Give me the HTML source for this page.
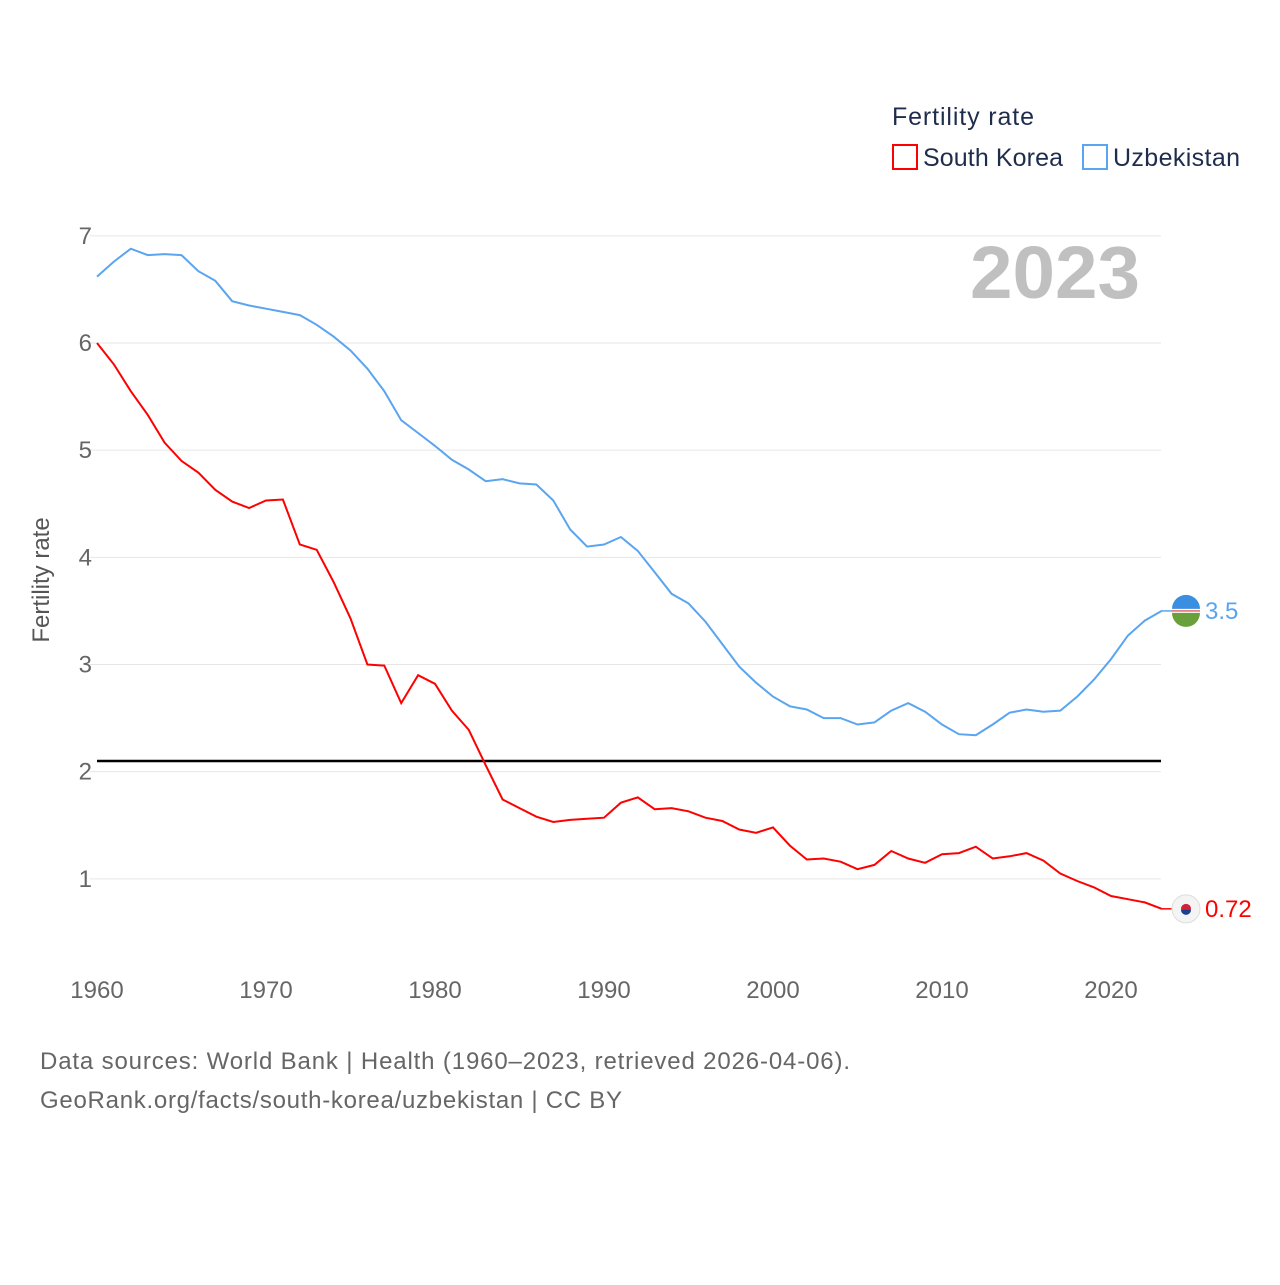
<!DOCTYPE html>
<html><head><meta charset="utf-8"><style>
body{margin:0;background:#fff;font-family:"Liberation Sans",sans-serif}
svg text{font-family:"Liberation Sans",sans-serif}
</style></head><body>
<svg id="chart" width="1280" height="1280" xmlns="http://www.w3.org/2000/svg">
<rect width="1280" height="1280" fill="#fff"/>
<g id="grid"></g>
<text x="970" y="298" textLength="170" lengthAdjust="spacingAndGlyphs" font-size="74" font-weight="bold" fill="#c0c0c0">2023</text>
<text x="49" y="580" transform="rotate(-90 49 580)" text-anchor="middle" font-size="24" fill="#555">Fertility rate</text>
<g>
<text x="892" y="125" textLength="142" font-size="25" fill="#1f2d4d">Fertility rate</text>
<rect x="893" y="145" width="24" height="24" fill="none" stroke="#ff0000" stroke-width="2"/>
<text x="923" y="166" textLength="140" font-size="25" fill="#1f2d4d">South Korea</text>
<rect x="1083" y="145" width="24" height="24" fill="none" stroke="#5aa5f0" stroke-width="2"/>
<text x="1113" y="166" textLength="127" font-size="25" fill="#1f2d4d">Uzbekistan</text>
</g>
<g id="marks"></g>
<text x="40" y="1069" textLength="810" font-size="24" fill="#666">Data sources: World Bank | Health (1960–2023, retrieved 2026-04-06).</text>
<text x="40" y="1108" textLength="582" font-size="24" fill="#666">GeoRank.org/facts/south-korea/uzbekistan | CC BY</text>
</svg>
<script>
const years=[];for(let y=1960;y<=2023;y++)years.push(y);
const korea=[6.0,5.8,5.55,5.33,5.07,4.9,4.79,4.63,4.52,4.46,4.53,4.54,4.12,4.07,3.77,3.43,3.0,2.99,2.64,2.9,2.82,2.57,2.39,2.06,1.74,1.66,1.58,1.53,1.55,1.56,1.57,1.71,1.76,1.65,1.66,1.63,1.57,1.54,1.46,1.43,1.48,1.31,1.18,1.19,1.16,1.09,1.13,1.26,1.19,1.15,1.23,1.24,1.30,1.19,1.21,1.24,1.17,1.05,0.98,0.92,0.84,0.81,0.78,0.72];
const uzbek=[6.62,6.76,6.88,6.82,6.83,6.82,6.67,6.58,6.39,6.35,6.32,6.29,6.26,6.17,6.06,5.93,5.76,5.55,5.28,5.16,5.04,4.91,4.82,4.71,4.73,4.69,4.68,4.53,4.26,4.1,4.12,4.19,4.06,3.86,3.66,3.57,3.40,3.19,2.98,2.83,2.70,2.61,2.58,2.50,2.50,2.44,2.46,2.57,2.64,2.56,2.44,2.35,2.34,2.44,2.55,2.58,2.56,2.57,2.70,2.86,3.05,3.27,3.41,3.50];
const yTicks=[1,2,3,4,5,6,7];
const xTicks=[1960,1970,1980,1990,2000,2010,2020];
const replacement=[2.1];
const endLabels=["0.72","3.5"];
const X=y=>97+(y-1960)*(1111-97)/60;
const Y=v=>986-v*(879-236)/6;
const NS="http://www.w3.org/2000/svg";
const grid=document.getElementById('grid'),marks=document.getElementById('marks');
function mk(tag,attrs,parent){const e=document.createElementNS(NS,tag);for(const k in attrs)e.setAttribute(k,attrs[k]);parent.appendChild(e);return e;}
yTicks.forEach(t=>{
 const l=mk('line',{x1:90,x2:1161,y1:Y(t),y2:Y(t),stroke:'#e6e6e6','stroke-width':1},grid);
 
 
 const tx=mk('text',{x:92,y:Y(t)+8,'text-anchor':'end','font-size':24,fill:'#666'},grid);
 tx.textContent=t;
 
 
});
xTicks.forEach(t=>{
 const tx=mk('text',{x:X(t),y:998,'text-anchor':'middle','font-size':24,fill:'#666'},grid);
 tx.textContent=t;
 
 
});
const rl=mk('line',{x1:97,x2:1161,y1:Y(replacement[0]),y2:Y(replacement[0]),stroke:'#000','stroke-width':2.5},marks);


function series(vals,color,name,label,flag){
 const p=mk('path',{d:vals.map((v,i)=>(i?'L':'M')+X(years[i]).toFixed(1)+','+Y(v).toFixed(1)).join(''),fill:'none',stroke:color,'stroke-width':2},marks);
 
 
 const last=vals[vals.length-1],ly=Y(last);
 const c=mk('line',{x1:1161,x2:1172,y1:ly,y2:ly,stroke:color,'stroke-width':1.5},marks);
 
 
 const g=mk('g',{},marks);
 
 
 if(flag==='uz'){
  mk('circle',{cx:1186,cy:ly,r:14,fill:'#fff'},g);
  mk('path',{d:`M1172,${ly-2}A14,14 0 0 1 1200,${ly-2}Z`,fill:'#3a8fe0'},g);
  mk('path',{d:`M1172,${ly+2}A14,14 0 0 0 1200,${ly+2}Z`,fill:'#6aa03c'},g);
  mk('line',{x1:1172,x2:1200,y1:ly,y2:ly,stroke:'#d33','stroke-width':1.2},g);
 }else{
  mk('circle',{cx:1186,cy:ly,r:14,fill:'#f4f4f4',stroke:'#ddd'},g);
  mk('circle',{cx:1186,cy:ly,r:5,fill:'#d0213a'},g);
  mk('path',{d:`M1181,${ly+1}A5,5 0 0 0 1191,${ly+1}Z`,fill:'#1d3f8f'},g);
 }
 const t=mk('text',{x:1205,y:ly+8,'font-size':24,fill:color},marks);
 t.textContent=label;
 
 
}
series(uzbek,'#5aa5f0','uzbekistan',endLabels[1],'uz');
series(korea,'#ff0000','south-korea',endLabels[0],'kr');
</script>
</body></html>
